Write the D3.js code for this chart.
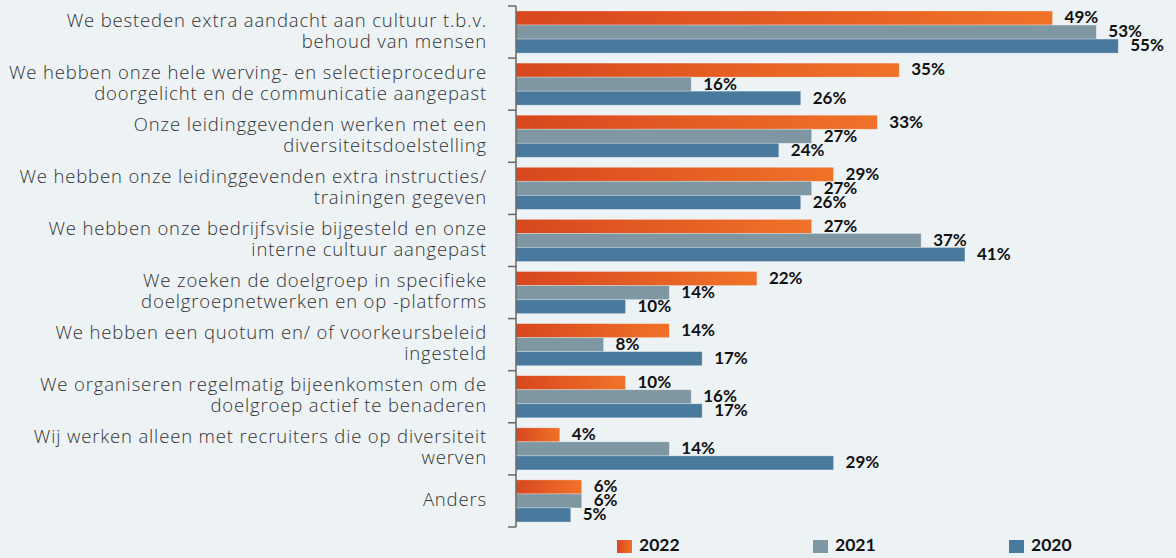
<!DOCTYPE html>
<html>
<head>
<meta charset="utf-8">
<script src="https://cdn.jsdelivr.net/npm/d3@7"></script>
<style>
  html, body { margin: 0; padding: 0; background: #edf2f5; }
  svg { display: block; }
</style>
</head>
<body>
<svg id="chart" width="1176" height="558"></svg>
<script>
const categories = [
  ["We besteden extra aandacht aan cultuur t.b.v.", "behoud van mensen"],
  ["We hebben onze hele werving- en selectieprocedure", "doorgelicht en de communicatie aangepast"],
  ["Onze leidinggevenden werken met een", "diversiteitsdoelstelling"],
  ["We hebben onze leidinggevenden extra instructies/", "trainingen gegeven"],
  ["We hebben onze bedrijfsvisie bijgesteld en onze", "interne cultuur aangepast"],
  ["We zoeken de doelgroep in specifieke", "doelgroepnetwerken en op -platforms"],
  ["We hebben een quotum en/ of voorkeursbeleid", "ingesteld"],
  ["We organiseren regelmatig bijeenkomsten om de", "doelgroep actief te benaderen"],
  ["Wij werken alleen met recruiters die op diversiteit", "werven"],
  ["Anders"]
];
const seriesNames = ["2022", "2021", "2020"];
const values2022 = [49, 35, 33, 29, 27, 22, 14, 10, 4, 6];
const values2021 = [53, 16, 27, 27, 37, 14, 8, 16, 14, 6];
const values2020 = [55, 26, 24, 26, 41, 10, 17, 17, 29, 5];
const seriesValues = [values2022, values2021, values2020];
const colors = { "2022": "url(#gradOrange)", "2021": "#7f97a3", "2020": "#4a799e" };

const svg = d3.select("#chart");
const defs = svg.append("defs");
const g = defs.append("linearGradient").attr("id", "gradOrange")
  .attr("x1", "0%").attr("x2", "100%").attr("y1", "0%").attr("y2", "0%");
g.append("stop").attr("offset", "0%").attr("stop-color", "#d8471e");
g.append("stop").attr("offset", "100%").attr("stop-color", "#f07329");

const idx = d3.range(categories.length);
const y = d3.scaleBand().domain(idx).range([6, 527]).paddingInner(0).paddingOuter(0);
const ySub = d3.scaleBand().domain(seriesNames).range([5, y.bandwidth() - 5]);
const x = d3.scaleLinear().domain([0, 60]).range([516, 516 + 657]);

// bars
const rows = svg.append("g");
idx.forEach(i => {
  seriesNames.forEach((s, si) => {
    const v = seriesValues[si][i];
    const yy = y(i) + ySub(s);
    rows.append("rect")
      .attr("x", x(0))
      .attr("y", yy)
      .attr("width", x(v) - x(0))
      .attr("height", ySub.bandwidth())
      .attr("fill", colors[s])
      .attr("stroke", "rgba(255,255,255,0.35)")
      .attr("stroke-width", 0.8);
    rows.append("text")
      .attr("x", x(v) + 12)
      .attr("y", yy + ySub.bandwidth() / 2 + 1)
      .attr("dominant-baseline", "middle")
      .attr("font-family", "Lato, sans-serif")
      .attr("font-weight", 700)
      .attr("font-size", 17)
      .attr("fill", "#111")
      .text(v + "%");
  });
});

// axis
const axis = svg.append("g");
axis.append("line")
  .attr("x1", x(0)).attr("x2", x(0))
  .attr("y1", y(0)).attr("y2", y(idx.length - 1) + y.bandwidth())
  .attr("stroke", "#666").attr("stroke-width", 1.5);
const tickPos = idx.map(i => y(i)).concat([y(idx.length - 1) + y.bandwidth()]);
axis.selectAll("line.tick").data(tickPos).enter().append("line")
  .attr("x1", x(0) - 8).attr("x2", x(0))
  .attr("y1", d => d).attr("y2", d => d)
  .attr("stroke", "#666").attr("stroke-width", 1.5);

// category labels
const labels = svg.append("g")
  .attr("font-family", "'Open Sans', sans-serif")
  .attr("font-weight", 300)
  .attr("font-size", 18.5)
  .attr("letter-spacing", 0.85)
  .attr("fill", "#333")
  .attr("text-anchor", "end");
idx.forEach(i => {
  const lines = categories[i];
  const cy = y(i) + y.bandwidth() / 2;
  const lh = 21;
  const t = labels.append("text");
  lines.forEach((ln, li) => {
    t.append("tspan")
      .attr("x", 487)
      .attr("y", cy + (li - (lines.length - 1) / 2) * lh)
      .attr("dominant-baseline", "middle")
      .text(ln);
  });
});

// legend
const legendX = [617, 813, 1009];
const legend = svg.append("g");
seriesNames.forEach((s, si) => {
  legend.append("rect")
    .attr("x", legendX[si]).attr("y", 540)
    .attr("width", 15).attr("height", 13)
    .attr("fill", colors[s]);
  legend.append("text")
    .attr("x", legendX[si] + 22).attr("y", 547)
    .attr("dominant-baseline", "middle")
    .attr("font-family", "Lato, sans-serif")
    .attr("font-weight", 700)
    .attr("font-size", 17.5)
    .attr("fill", "#111")
    .text(s);
});
</script>
</body>
</html>
